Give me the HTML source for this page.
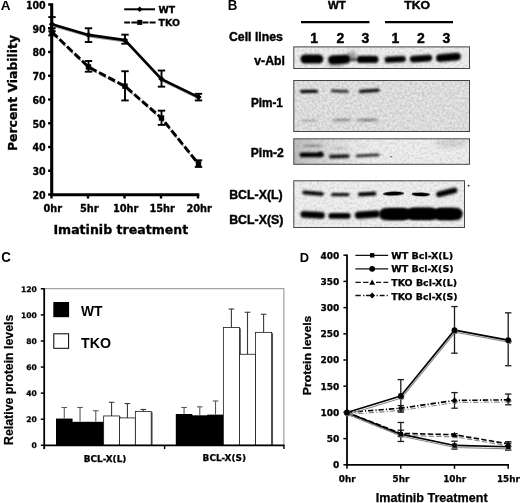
<!DOCTYPE html>
<html><head><meta charset="utf-8"><title>Figure</title>
<style>html,body{margin:0;padding:0;background:#fff;}svg{display:block;}</style></head><body>
<svg width="520" height="503" viewBox="0 0 520 503">
<defs>
<filter id="b0_5" x="-30%" y="-100%" width="160%" height="300%"><feGaussianBlur stdDeviation="0.5"/></filter>
<filter id="b0_8" x="-30%" y="-100%" width="160%" height="300%"><feGaussianBlur stdDeviation="0.8"/></filter>
<filter id="b1_2" x="-30%" y="-100%" width="160%" height="300%"><feGaussianBlur stdDeviation="1.2"/></filter>
<filter id="b1_5" x="-30%" y="-100%" width="160%" height="300%"><feGaussianBlur stdDeviation="1.5"/></filter>
<filter id="b2" x="-30%" y="-100%" width="160%" height="300%"><feGaussianBlur stdDeviation="2"/></filter>
<filter id="nz" x="0" y="0" width="100%" height="100%"><feTurbulence type="fractalNoise" baseFrequency="0.4" numOctaves="2" seed="7"/><feColorMatrix type="matrix" values="0 0 0 0 0  0 0 0 0 0  0 0 0 0 0  0.3 0 0 0 -0.1"/></filter>
<filter id="nz2" x="0" y="0" width="100%" height="100%"><feTurbulence type="fractalNoise" baseFrequency="0.4" numOctaves="2" seed="11"/><feColorMatrix type="matrix" values="0 0 0 0 0  0 0 0 0 0  0 0 0 0 0  0.25 0 0 0 -0.1"/></filter>
<linearGradient id="gl" x1="0" x2="1" y1="0" y2="0"><stop offset="0" stop-color="#000" stop-opacity="0.2"/><stop offset="0.5" stop-color="#000" stop-opacity="0.08"/><stop offset="1" stop-color="#000" stop-opacity="0"/></linearGradient>
</defs>
<rect width="520" height="503" fill="#fff"/>
<text x="0.70" y="9.80" font-size="13.3" font-family="'Liberation Sans', sans-serif" font-weight="bold" text-anchor="start" textLength="9.80" lengthAdjust="spacingAndGlyphs" >A</text>
<line x1="51.70" y1="3.30" x2="51.70" y2="196.00" stroke="#000" stroke-width="3.1" />
<line x1="50.20" y1="194.80" x2="199.30" y2="194.80" stroke="#000" stroke-width="3.1" />
<line x1="48.10" y1="194.50" x2="51.50" y2="194.50" stroke="#000" stroke-width="2.4" />
<text x="45.70" y="198.80" font-size="9.7" font-family="'DejaVu Sans', 'Liberation Sans', sans-serif" font-weight="bold" text-anchor="end" textLength="13.20" lengthAdjust="spacingAndGlyphs" stroke="#000" stroke-width="0.3">20</text>
<line x1="48.10" y1="170.75" x2="51.50" y2="170.75" stroke="#000" stroke-width="2.4" />
<text x="45.70" y="175.05" font-size="9.7" font-family="'DejaVu Sans', 'Liberation Sans', sans-serif" font-weight="bold" text-anchor="end" textLength="13.20" lengthAdjust="spacingAndGlyphs" stroke="#000" stroke-width="0.3">30</text>
<line x1="48.10" y1="147.00" x2="51.50" y2="147.00" stroke="#000" stroke-width="2.4" />
<text x="45.70" y="151.30" font-size="9.7" font-family="'DejaVu Sans', 'Liberation Sans', sans-serif" font-weight="bold" text-anchor="end" textLength="13.20" lengthAdjust="spacingAndGlyphs" stroke="#000" stroke-width="0.3">40</text>
<line x1="48.10" y1="123.25" x2="51.50" y2="123.25" stroke="#000" stroke-width="2.4" />
<text x="45.70" y="127.55" font-size="9.7" font-family="'DejaVu Sans', 'Liberation Sans', sans-serif" font-weight="bold" text-anchor="end" textLength="13.20" lengthAdjust="spacingAndGlyphs" stroke="#000" stroke-width="0.3">50</text>
<line x1="48.10" y1="99.50" x2="51.50" y2="99.50" stroke="#000" stroke-width="2.4" />
<text x="45.70" y="103.80" font-size="9.7" font-family="'DejaVu Sans', 'Liberation Sans', sans-serif" font-weight="bold" text-anchor="end" textLength="13.20" lengthAdjust="spacingAndGlyphs" stroke="#000" stroke-width="0.3">60</text>
<line x1="48.10" y1="75.75" x2="51.50" y2="75.75" stroke="#000" stroke-width="2.4" />
<text x="45.70" y="80.05" font-size="9.7" font-family="'DejaVu Sans', 'Liberation Sans', sans-serif" font-weight="bold" text-anchor="end" textLength="13.20" lengthAdjust="spacingAndGlyphs" stroke="#000" stroke-width="0.3">70</text>
<line x1="48.10" y1="52.00" x2="51.50" y2="52.00" stroke="#000" stroke-width="2.4" />
<text x="45.70" y="56.30" font-size="9.7" font-family="'DejaVu Sans', 'Liberation Sans', sans-serif" font-weight="bold" text-anchor="end" textLength="13.20" lengthAdjust="spacingAndGlyphs" stroke="#000" stroke-width="0.3">80</text>
<line x1="48.10" y1="28.25" x2="51.50" y2="28.25" stroke="#000" stroke-width="2.4" />
<text x="45.70" y="32.55" font-size="9.7" font-family="'DejaVu Sans', 'Liberation Sans', sans-serif" font-weight="bold" text-anchor="end" textLength="13.20" lengthAdjust="spacingAndGlyphs" stroke="#000" stroke-width="0.3">90</text>
<line x1="48.10" y1="4.50" x2="51.50" y2="4.50" stroke="#000" stroke-width="2.4" />
<text x="45.70" y="8.80" font-size="9.7" font-family="'DejaVu Sans', 'Liberation Sans', sans-serif" font-weight="bold" text-anchor="end" textLength="19.80" lengthAdjust="spacingAndGlyphs" stroke="#000" stroke-width="0.3">100</text>
<line x1="51.50" y1="194.50" x2="51.50" y2="198.50" stroke="#000" stroke-width="2.4" />
<text x="52.70" y="212.20" font-size="9.8" font-family="'DejaVu Sans', 'Liberation Sans', sans-serif" font-weight="bold" text-anchor="middle" stroke="#000" stroke-width="0.3">0hr</text>
<line x1="88.00" y1="194.50" x2="88.00" y2="198.50" stroke="#000" stroke-width="2.4" />
<text x="89.20" y="212.20" font-size="9.8" font-family="'DejaVu Sans', 'Liberation Sans', sans-serif" font-weight="bold" text-anchor="middle" stroke="#000" stroke-width="0.3">5hr</text>
<line x1="124.50" y1="194.50" x2="124.50" y2="198.50" stroke="#000" stroke-width="2.4" />
<text x="125.70" y="212.20" font-size="9.8" font-family="'DejaVu Sans', 'Liberation Sans', sans-serif" font-weight="bold" text-anchor="middle" stroke="#000" stroke-width="0.3">10hr</text>
<line x1="161.00" y1="194.50" x2="161.00" y2="198.50" stroke="#000" stroke-width="2.4" />
<text x="162.20" y="212.20" font-size="9.8" font-family="'DejaVu Sans', 'Liberation Sans', sans-serif" font-weight="bold" text-anchor="middle" stroke="#000" stroke-width="0.3">15hr</text>
<line x1="198.00" y1="194.50" x2="198.00" y2="198.50" stroke="#000" stroke-width="2.4" />
<text x="199.20" y="212.20" font-size="9.8" font-family="'DejaVu Sans', 'Liberation Sans', sans-serif" font-weight="bold" text-anchor="middle" stroke="#000" stroke-width="0.3">20hr</text>
<text transform="translate(16.80 93.00) rotate(-90)" font-size="12.6" font-family="'DejaVu Sans', 'Liberation Sans', sans-serif" font-weight="bold" text-anchor="middle" textLength="116.00" lengthAdjust="spacingAndGlyphs" stroke="#000" stroke-width="0.3">Percent Viability</text>
<text x="53.40" y="234.20" font-size="12.5" font-family="'DejaVu Sans', 'Liberation Sans', sans-serif" font-weight="bold" text-anchor="start" textLength="134.80" lengthAdjust="spacingAndGlyphs" stroke="#000" stroke-width="0.3">Imatinib treatment</text>
<polyline points="52.60,25.81 89.10,36.50 125.60,41.73 162.10,80.68 199.10,98.72" fill="none" stroke="#9a9a9a" stroke-width="1.8" stroke-linejoin="round" />
<polyline points="52.60,33.65 89.10,68.56 125.60,87.80 162.10,119.62 199.10,165.46" fill="none" stroke="#9a9a9a" stroke-width="1.8" stroke-linejoin="round" stroke-dasharray="7.6 2.8"/>
<polyline points="52.00,24.21 88.50,34.90 125.00,40.12 161.50,79.08 198.50,97.12" fill="none" stroke="#000" stroke-width="2.6" stroke-linejoin="round" />
<polyline points="52.00,32.05 88.50,66.96 125.00,86.20 161.50,118.02 198.50,163.86" fill="none" stroke="#000" stroke-width="2.9" stroke-linejoin="round" stroke-dasharray="7.6 2.8"/>
<line x1="52.00" y1="17.09" x2="52.00" y2="31.34" stroke="#000" stroke-width="1.9" />
<line x1="48.30" y1="17.09" x2="55.70" y2="17.09" stroke="#000" stroke-width="1.9" />
<line x1="48.30" y1="31.34" x2="55.70" y2="31.34" stroke="#000" stroke-width="1.9" />
<path d="M48.80 24.21 L52.00 21.01 L55.20 24.21 L52.00 27.41Z" fill="#000"/>
<line x1="88.50" y1="28.25" x2="88.50" y2="42.02" stroke="#000" stroke-width="1.9" />
<line x1="84.80" y1="28.25" x2="92.20" y2="28.25" stroke="#000" stroke-width="1.9" />
<line x1="84.80" y1="42.02" x2="92.20" y2="42.02" stroke="#000" stroke-width="1.9" />
<path d="M85.30 34.90 L88.50 31.70 L91.70 34.90 L88.50 38.10Z" fill="#000"/>
<line x1="125.00" y1="34.66" x2="125.00" y2="43.69" stroke="#000" stroke-width="1.9" />
<line x1="121.30" y1="34.66" x2="128.70" y2="34.66" stroke="#000" stroke-width="1.9" />
<line x1="121.30" y1="43.69" x2="128.70" y2="43.69" stroke="#000" stroke-width="1.9" />
<path d="M121.80 40.12 L125.00 36.92 L128.20 40.12 L125.00 43.33Z" fill="#000"/>
<line x1="161.50" y1="70.52" x2="161.50" y2="86.67" stroke="#000" stroke-width="1.9" />
<line x1="157.80" y1="70.52" x2="165.20" y2="70.52" stroke="#000" stroke-width="1.9" />
<line x1="157.80" y1="86.67" x2="165.20" y2="86.67" stroke="#000" stroke-width="1.9" />
<path d="M158.30 79.08 L161.50 75.88 L164.70 79.08 L161.50 82.28Z" fill="#000"/>
<line x1="198.50" y1="93.80" x2="198.50" y2="100.45" stroke="#000" stroke-width="1.9" />
<line x1="194.80" y1="93.80" x2="202.20" y2="93.80" stroke="#000" stroke-width="1.9" />
<line x1="194.80" y1="100.45" x2="202.20" y2="100.45" stroke="#000" stroke-width="1.9" />
<path d="M195.30 97.12 L198.50 93.92 L201.70 97.12 L198.50 100.33Z" fill="#000"/>
<line x1="52.00" y1="28.25" x2="52.00" y2="35.38" stroke="#000" stroke-width="1.9" />
<line x1="48.30" y1="28.25" x2="55.70" y2="28.25" stroke="#000" stroke-width="1.9" />
<line x1="48.30" y1="35.38" x2="55.70" y2="35.38" stroke="#000" stroke-width="1.9" />
<rect x="49.30" y="29.35" width="5.4" height="5.4" fill="#000"/>
<line x1="88.50" y1="61.02" x2="88.50" y2="71.71" stroke="#000" stroke-width="1.9" />
<line x1="84.80" y1="61.02" x2="92.20" y2="61.02" stroke="#000" stroke-width="1.9" />
<line x1="84.80" y1="71.71" x2="92.20" y2="71.71" stroke="#000" stroke-width="1.9" />
<rect x="85.80" y="64.26" width="5.4" height="5.4" fill="#000"/>
<line x1="125.00" y1="71.24" x2="125.00" y2="100.45" stroke="#000" stroke-width="1.9" />
<line x1="121.30" y1="71.24" x2="128.70" y2="71.24" stroke="#000" stroke-width="1.9" />
<line x1="121.30" y1="100.45" x2="128.70" y2="100.45" stroke="#000" stroke-width="1.9" />
<rect x="122.30" y="83.50" width="5.4" height="5.4" fill="#000"/>
<line x1="161.50" y1="110.66" x2="161.50" y2="124.91" stroke="#000" stroke-width="1.9" />
<line x1="157.80" y1="110.66" x2="165.20" y2="110.66" stroke="#000" stroke-width="1.9" />
<line x1="157.80" y1="124.91" x2="165.20" y2="124.91" stroke="#000" stroke-width="1.9" />
<rect x="158.80" y="115.32" width="5.4" height="5.4" fill="#000"/>
<line x1="198.50" y1="160.30" x2="198.50" y2="166.95" stroke="#000" stroke-width="1.9" />
<line x1="194.80" y1="160.30" x2="202.20" y2="160.30" stroke="#000" stroke-width="1.9" />
<line x1="194.80" y1="166.95" x2="202.20" y2="166.95" stroke="#000" stroke-width="1.9" />
<rect x="195.80" y="161.16" width="5.4" height="5.4" fill="#000"/>
<line x1="124.20" y1="9.30" x2="155.00" y2="9.30" stroke="#000" stroke-width="2" />
<path d="M136.9 9.3 L139.7 6.5 L142.5 9.3 L139.7 12.1Z" fill="#000"/>
<text x="158.60" y="12.70" font-size="9.3" font-family="'DejaVu Sans', 'Liberation Sans', sans-serif" font-weight="bold" text-anchor="start" textLength="16.60" lengthAdjust="spacingAndGlyphs" stroke="#000" stroke-width="0.3">WT</text>
<line x1="124.20" y1="22.40" x2="137.40" y2="22.40" stroke="#000" stroke-width="2" stroke-dasharray="5.9 1.3"/>
<line x1="142.40" y1="22.40" x2="155.80" y2="22.40" stroke="#000" stroke-width="2" stroke-dasharray="6 1.2"/>
<rect x="137.2" y="19.9" width="5" height="5" fill="#000"/>
<text x="158.60" y="26.30" font-size="9.3" font-family="'DejaVu Sans', 'Liberation Sans', sans-serif" font-weight="bold" text-anchor="start" textLength="21.40" lengthAdjust="spacingAndGlyphs" stroke="#000" stroke-width="0.3">TKO</text>
<text x="227.80" y="10.20" font-size="14" font-family="'Liberation Sans', sans-serif" font-weight="bold" text-anchor="start" textLength="9.60" lengthAdjust="spacingAndGlyphs" >B</text>
<text x="328.00" y="9.00" font-size="11" font-family="'Liberation Sans', sans-serif" font-weight="bold" text-anchor="start" textLength="17.80" lengthAdjust="spacingAndGlyphs" stroke="#000" stroke-width="0.4">WT</text>
<text x="404.30" y="9.00" font-size="11" font-family="'Liberation Sans', sans-serif" font-weight="bold" text-anchor="start" textLength="25.80" lengthAdjust="spacingAndGlyphs" stroke="#000" stroke-width="0.4">TKO</text>
<line x1="301.00" y1="22.10" x2="369.50" y2="22.10" stroke="#000" stroke-width="2.3" />
<line x1="385.00" y1="22.10" x2="453.00" y2="22.10" stroke="#000" stroke-width="2.3" />
<text x="229.00" y="41.20" font-size="12.4" font-family="'Liberation Sans', sans-serif" font-weight="bold" text-anchor="start" textLength="53.80" lengthAdjust="spacingAndGlyphs" stroke="#000" stroke-width="0.4">Cell lines</text>
<text x="314.10" y="42.70" font-size="14" font-family="'Liberation Sans', sans-serif" font-weight="bold" text-anchor="middle" stroke="#000" stroke-width="0.4">1</text>
<text x="340.40" y="42.70" font-size="14" font-family="'Liberation Sans', sans-serif" font-weight="bold" text-anchor="middle" stroke="#000" stroke-width="0.4">2</text>
<text x="365.40" y="42.70" font-size="14" font-family="'Liberation Sans', sans-serif" font-weight="bold" text-anchor="middle" stroke="#000" stroke-width="0.4">3</text>
<text x="395.40" y="42.70" font-size="14" font-family="'Liberation Sans', sans-serif" font-weight="bold" text-anchor="middle" stroke="#000" stroke-width="0.4">1</text>
<text x="420.90" y="42.70" font-size="14" font-family="'Liberation Sans', sans-serif" font-weight="bold" text-anchor="middle" stroke="#000" stroke-width="0.4">2</text>
<text x="446.40" y="42.70" font-size="14" font-family="'Liberation Sans', sans-serif" font-weight="bold" text-anchor="middle" stroke="#000" stroke-width="0.4">3</text>
<text x="254.30" y="64.70" font-size="12.3" font-family="'Liberation Sans', sans-serif" font-weight="bold" text-anchor="start" textLength="30.60" lengthAdjust="spacingAndGlyphs" stroke="#000" stroke-width="0.4">v-Abl</text>
<text x="250.90" y="107.10" font-size="12.3" font-family="'Liberation Sans', sans-serif" font-weight="bold" text-anchor="start" textLength="32.00" lengthAdjust="spacingAndGlyphs" stroke="#000" stroke-width="0.4">Pim-1</text>
<text x="250.80" y="157.00" font-size="12.3" font-family="'Liberation Sans', sans-serif" font-weight="bold" text-anchor="start" textLength="32.90" lengthAdjust="spacingAndGlyphs" stroke="#000" stroke-width="0.4">Pim-2</text>
<text x="229.20" y="199.10" font-size="12.4" font-family="'Liberation Sans', sans-serif" font-weight="bold" text-anchor="start" textLength="53.50" lengthAdjust="spacingAndGlyphs" stroke="#000" stroke-width="0.4">BCL-X(L)</text>
<text x="229.20" y="223.50" font-size="12.4" font-family="'Liberation Sans', sans-serif" font-weight="bold" text-anchor="start" textLength="54.20" lengthAdjust="spacingAndGlyphs" stroke="#000" stroke-width="0.4">BCL-X(S)</text>
<clipPath id="c1"><rect x="293.8" y="46.9" width="175.70" height="21.60"/></clipPath>
<rect x="293.8" y="46.9" width="175.70" height="21.60" fill="#eeeeee"/>
<rect x="293.8" y="46.9" width="175.70" height="21.60" fill="#000" filter="url(#nz2)"/>
<g clip-path="url(#c1)">
<rect x="300.40" y="54.40" width="23.00" height="9.20" rx="4.60" ry="4.60" fill="#000" opacity="1" filter="url(#b0_8)" transform="rotate(0 311.90 59.00)"/>
<rect x="328.00" y="55.00" width="22.50" height="9.00" rx="4.50" ry="4.50" fill="#000" opacity="1" filter="url(#b0_8)" transform="rotate(-3 339.25 59.50)"/>
<rect x="356.80" y="55.70" width="21.70" height="7.40" rx="3.70" ry="3.70" fill="#000" opacity="1" filter="url(#b0_8)" transform="rotate(0 367.65 59.40)"/>
<ellipse cx="336.00" cy="64.00" rx="8.00" ry="2.50" fill="#000" opacity="0.35" filter="url(#b2)" transform="rotate(0 336.00 64.00)"/>
<ellipse cx="352.00" cy="55.50" rx="4.50" ry="3.50" fill="#000" opacity="0.4" filter="url(#b2)" transform="rotate(0 352.00 55.50)"/>
<ellipse cx="353.50" cy="59.50" rx="4.00" ry="1.75" fill="#000" opacity="0.6" filter="url(#b1_2)" transform="rotate(0 353.50 59.50)"/>
<rect x="384.60" y="56.30" width="21.20" height="6.20" rx="3.10" ry="3.10" fill="#000" opacity="1" filter="url(#b0_8)" transform="rotate(-3 395.20 59.40)"/>
<rect x="409.80" y="55.30" width="22.40" height="6.60" rx="3.30" ry="3.30" fill="#000" opacity="1" filter="url(#b0_8)" transform="rotate(-4 421.00 58.60)"/>
<rect x="436.00" y="53.60" width="24.80" height="7.60" rx="3.80" ry="3.80" fill="#000" opacity="1" filter="url(#b0_8)" transform="rotate(-5 448.40 57.40)"/>
</g>
<rect x="293.8" y="46.9" width="175.70" height="21.60" fill="none" stroke="#444" stroke-width="1"/>
<clipPath id="c2"><rect x="293.8" y="80.5" width="175.70" height="51.00"/></clipPath>
<rect x="293.8" y="80.5" width="175.70" height="51.00" fill="#e6e6e6"/>
<rect x="293.8" y="80.5" width="175.70" height="51.00" fill="#000" filter="url(#nz)"/>
<g clip-path="url(#c2)">
<rect x="300.00" y="89.85" width="18.00" height="3.10" rx="1.55" ry="1.55" fill="#000" opacity="1" filter="url(#b0_8)" transform="rotate(-1 309.00 91.40)"/>
<rect x="330.80" y="89.70" width="18.00" height="2.80" rx="1.40" ry="1.40" fill="#000" opacity="0.85" filter="url(#b0_8)" transform="rotate(2 339.80 91.10)"/>
<rect x="358.60" y="89.15" width="21.20" height="3.30" rx="1.65" ry="1.65" fill="#000" opacity="1" filter="url(#b0_8)" transform="rotate(-4 369.20 90.80)"/>
<ellipse cx="309.00" cy="120.50" rx="9.00" ry="1.10" fill="#000" opacity="0.25" filter="url(#b1_2)" transform="rotate(0 309.00 120.50)"/>
<ellipse cx="342.00" cy="120.00" rx="10.00" ry="1.30" fill="#000" opacity="0.4" filter="url(#b1_2)" transform="rotate(0 342.00 120.00)"/>
<ellipse cx="367.50" cy="120.00" rx="11.50" ry="1.40" fill="#000" opacity="0.42" filter="url(#b1_2)" transform="rotate(0 367.50 120.00)"/>
</g>
<rect x="293.8" y="80.5" width="175.70" height="51.00" fill="none" stroke="#444" stroke-width="1"/>
<clipPath id="c3"><rect x="293.8" y="138.8" width="175.70" height="25.50"/></clipPath>
<rect x="293.8" y="138.8" width="175.70" height="25.50" fill="#eeeeee"/>
<rect x="293.8" y="138.8" width="175.70" height="25.50" fill="#000" filter="url(#nz2)"/>
<g clip-path="url(#c3)">
<rect x="293.8" y="138.8" width="70" height="25.5" fill="url(#gl)"/>
<rect x="299.50" y="152.50" width="24.30" height="4.80" rx="2.40" ry="2.40" fill="#000" opacity="1" filter="url(#b0_8)" transform="rotate(0 311.65 154.90)"/>
<ellipse cx="320.50" cy="153.30" rx="2.50" ry="1.50" fill="#000" opacity="0.9" filter="url(#b0_8)" transform="rotate(0 320.50 153.30)"/>
<rect x="329.00" y="154.60" width="20.60" height="3.60" rx="1.80" ry="1.80" fill="#000" opacity="0.92" filter="url(#b0_8)" transform="rotate(-2 339.30 156.40)"/>
<rect x="355.80" y="153.95" width="23.70" height="2.90" rx="1.45" ry="1.45" fill="#000" opacity="0.85" filter="url(#b0_8)" transform="rotate(-3 367.65 155.40)"/>
<ellipse cx="313.00" cy="145.90" rx="10.50" ry="1.20" fill="#000" opacity="0.32" filter="url(#b1_2)" transform="rotate(0 313.00 145.90)"/>
<ellipse cx="340.00" cy="148.30" rx="8.50" ry="1.10" fill="#000" opacity="0.16" filter="url(#b1_2)" transform="rotate(0 340.00 148.30)"/>
<ellipse cx="363.00" cy="146.00" rx="4.00" ry="1.00" fill="#000" opacity="0.1" filter="url(#b1_2)" transform="rotate(0 363.00 146.00)"/>
<ellipse cx="451.00" cy="143.50" rx="16.50" ry="3.50" fill="#000" opacity="0.13" filter="url(#b2)" transform="rotate(0 451.00 143.50)"/>
<circle cx="391" cy="156.8" r="0.7" fill="#222"/>
<circle cx="381" cy="154.5" r="0.5" fill="#555"/>
</g>
<rect x="293.8" y="138.8" width="175.70" height="25.50" fill="none" stroke="#444" stroke-width="1"/>
<clipPath id="c4"><rect x="293.8" y="180.8" width="170.70" height="46.70"/></clipPath>
<rect x="293.8" y="180.8" width="170.70" height="46.70" fill="#efefef"/>
<rect x="293.8" y="180.8" width="170.70" height="46.70" fill="#000" filter="url(#nz2)"/>
<g clip-path="url(#c4)">
<rect x="302.30" y="191.20" width="21.50" height="4.00" rx="2.00" ry="2.00" fill="#000" opacity="1" filter="url(#b0_8)" transform="rotate(5 313.05 193.20)"/>
<rect x="331.00" y="193.10" width="18.60" height="3.20" rx="1.60" ry="1.60" fill="#000" opacity="0.95" filter="url(#b0_8)" transform="rotate(0 340.30 194.70)"/>
<rect x="357.80" y="192.00" width="18.70" height="4.00" rx="2.00" ry="2.00" fill="#000" opacity="1" filter="url(#b0_8)" transform="rotate(-3 367.15 194.00)"/>
<ellipse cx="393.50" cy="193.60" rx="10.75" ry="2.00" fill="#000" opacity="1" filter="url(#b0_5)" transform="rotate(-2 393.50 193.60)"/>
<ellipse cx="420.80" cy="194.30" rx="9.25" ry="1.90" fill="#000" opacity="1" filter="url(#b0_5)" transform="rotate(2 420.80 194.30)"/>
<rect x="435.90" y="189.40" width="21.70" height="5.80" rx="2.90" ry="2.90" fill="#000" opacity="1" filter="url(#b0_8)" transform="rotate(-14 446.75 192.30)"/>
<rect x="300.50" y="211.60" width="24.30" height="6.60" rx="3.30" ry="3.30" fill="#000" opacity="1" filter="url(#b0_8)" transform="rotate(3 312.65 214.90)"/>
<rect x="328.40" y="213.10" width="22.20" height="5.60" rx="2.80" ry="2.80" fill="#000" opacity="1" filter="url(#b0_8)" transform="rotate(0 339.50 215.90)"/>
<rect x="354.80" y="210.90" width="25.20" height="7.40" rx="3.70" ry="3.70" fill="#000" opacity="1" filter="url(#b0_8)" transform="rotate(-4 367.40 214.60)"/>
<rect x="379.00" y="208.10" width="30.50" height="12.20" rx="6.10" ry="6.10" fill="#000" opacity="1" filter="url(#b0_8)" transform="rotate(0 394.25 214.20)"/>
<rect x="407.50" y="207.50" width="29.00" height="12.60" rx="6.30" ry="6.30" fill="#000" opacity="1" filter="url(#b0_8)" transform="rotate(0 422.00 213.80)"/>
<rect x="434.50" y="207.80" width="28.10" height="12.40" rx="6.20" ry="6.20" fill="#000" opacity="1" filter="url(#b0_8)" transform="rotate(0 448.55 214.00)"/>
<rect x="388" y="208.8" width="66" height="10.4" fill="#000" filter="url(#b0_8)"/>
</g>
<rect x="293.8" y="180.8" width="170.70" height="46.70" fill="none" stroke="#444" stroke-width="1"/>
<circle cx="468.6" cy="185.6" r="0.9" fill="#111"/>
<text x="1.20" y="262.20" font-size="14" font-family="'Liberation Sans', sans-serif" font-weight="bold" text-anchor="start" textLength="9.60" lengthAdjust="spacingAndGlyphs" >C</text>
<line x1="44.20" y1="288.70" x2="284.30" y2="288.70" stroke="#808080" stroke-width="0.9" />
<line x1="283.90" y1="288.70" x2="283.90" y2="445.30" stroke="#808080" stroke-width="0.9" />
<line x1="40.80" y1="445.30" x2="44.20" y2="445.30" stroke="#000" stroke-width="1.5" />
<text x="36.90" y="448.20" font-size="7.6" font-family="'DejaVu Sans', 'Liberation Sans', sans-serif" font-weight="bold" text-anchor="end" stroke="#000" stroke-width="0.25">0</text>
<line x1="40.80" y1="419.22" x2="44.20" y2="419.22" stroke="#000" stroke-width="1.5" />
<text x="36.90" y="422.12" font-size="7.6" font-family="'DejaVu Sans', 'Liberation Sans', sans-serif" font-weight="bold" text-anchor="end" stroke="#000" stroke-width="0.25">20</text>
<line x1="40.80" y1="393.13" x2="44.20" y2="393.13" stroke="#000" stroke-width="1.5" />
<text x="36.90" y="396.03" font-size="7.6" font-family="'DejaVu Sans', 'Liberation Sans', sans-serif" font-weight="bold" text-anchor="end" stroke="#000" stroke-width="0.25">40</text>
<line x1="40.80" y1="367.05" x2="44.20" y2="367.05" stroke="#000" stroke-width="1.5" />
<text x="36.90" y="369.95" font-size="7.6" font-family="'DejaVu Sans', 'Liberation Sans', sans-serif" font-weight="bold" text-anchor="end" stroke="#000" stroke-width="0.25">60</text>
<line x1="40.80" y1="340.97" x2="44.20" y2="340.97" stroke="#000" stroke-width="1.5" />
<text x="36.90" y="343.87" font-size="7.6" font-family="'DejaVu Sans', 'Liberation Sans', sans-serif" font-weight="bold" text-anchor="end" stroke="#000" stroke-width="0.25">80</text>
<line x1="40.80" y1="314.88" x2="44.20" y2="314.88" stroke="#000" stroke-width="1.5" />
<text x="36.90" y="317.78" font-size="7.6" font-family="'DejaVu Sans', 'Liberation Sans', sans-serif" font-weight="bold" text-anchor="end" stroke="#000" stroke-width="0.25">100</text>
<line x1="40.80" y1="288.80" x2="44.20" y2="288.80" stroke="#000" stroke-width="1.5" />
<text x="36.90" y="291.70" font-size="7.6" font-family="'DejaVu Sans', 'Liberation Sans', sans-serif" font-weight="bold" text-anchor="end" stroke="#000" stroke-width="0.25">120</text>
<text transform="translate(13.00 379.80) rotate(-90)" font-size="12.6" font-family="'Liberation Sans', sans-serif" font-weight="bold" text-anchor="middle" textLength="130.40" lengthAdjust="spacingAndGlyphs" stroke="#000" stroke-width="0.2">Relative protein levels</text>
<text x="81.00" y="316.30" font-size="14" font-family="'Liberation Sans', sans-serif" font-weight="bold" text-anchor="start" textLength="21.50" lengthAdjust="spacingAndGlyphs" >WT</text>
<text x="81.00" y="348.00" font-size="14" font-family="'Liberation Sans', sans-serif" font-weight="bold" text-anchor="start" textLength="30.00" lengthAdjust="spacingAndGlyphs" >TKO</text>
<rect x="53.3" y="302" width="15.8" height="15.2" fill="#000"/>
<rect x="53.8" y="333.8" width="14.8" height="14.5" fill="#fff" stroke="#000" stroke-width="1"/>
<rect x="56.00" y="418.56" width="16.55" height="26.74" fill="#000"/>
<line x1="64.28" y1="407.48" x2="64.28" y2="418.56" stroke="#5a5a5a" stroke-width="1.1" />
<line x1="61.48" y1="407.48" x2="67.08" y2="407.48" stroke="#5a5a5a" stroke-width="1.1" />
<rect x="71.75" y="421.82" width="16.55" height="23.48" fill="#000"/>
<line x1="80.03" y1="407.48" x2="80.03" y2="421.82" stroke="#5a5a5a" stroke-width="1.1" />
<line x1="77.23" y1="407.48" x2="82.83" y2="407.48" stroke="#5a5a5a" stroke-width="1.1" />
<rect x="87.50" y="421.82" width="16.55" height="23.48" fill="#000"/>
<line x1="95.78" y1="410.74" x2="95.78" y2="421.82" stroke="#5a5a5a" stroke-width="1.1" />
<line x1="92.98" y1="410.74" x2="98.58" y2="410.74" stroke="#5a5a5a" stroke-width="1.1" />
<line x1="111.58" y1="402.26" x2="111.58" y2="415.96" stroke="#3a3a3a" stroke-width="1.1" />
<line x1="108.78" y1="402.26" x2="114.38" y2="402.26" stroke="#3a3a3a" stroke-width="1.1" />
<rect x="119.30" y="416.76" width="1.6" height="28.54" fill="#555"/>
<rect x="103.65" y="415.96" width="15.85" height="29.34" fill="#fff" stroke="#1a1a1a" stroke-width="0.8"/>
<line x1="127.42" y1="403.57" x2="127.42" y2="417.91" stroke="#3a3a3a" stroke-width="1.1" />
<line x1="124.62" y1="403.57" x2="130.22" y2="403.57" stroke="#3a3a3a" stroke-width="1.1" />
<rect x="135.15" y="418.71" width="1.6" height="26.59" fill="#555"/>
<rect x="119.50" y="417.91" width="15.85" height="27.39" fill="#fff" stroke="#1a1a1a" stroke-width="0.8"/>
<line x1="143.28" y1="409.44" x2="143.28" y2="411.39" stroke="#3a3a3a" stroke-width="1.1" />
<line x1="140.47" y1="409.44" x2="146.08" y2="409.44" stroke="#3a3a3a" stroke-width="1.1" />
<rect x="151.00" y="412.19" width="1.6" height="33.11" fill="#555"/>
<rect x="135.35" y="411.39" width="15.85" height="33.91" fill="#fff" stroke="#1a1a1a" stroke-width="0.8"/>
<rect x="175.80" y="414.00" width="16.52" height="31.30" fill="#000"/>
<line x1="184.06" y1="407.48" x2="184.06" y2="414.00" stroke="#5a5a5a" stroke-width="1.1" />
<line x1="181.26" y1="407.48" x2="186.86" y2="407.48" stroke="#5a5a5a" stroke-width="1.1" />
<rect x="191.52" y="415.30" width="16.52" height="30.00" fill="#000"/>
<line x1="199.78" y1="406.83" x2="199.78" y2="415.30" stroke="#5a5a5a" stroke-width="1.1" />
<line x1="196.98" y1="406.83" x2="202.58" y2="406.83" stroke="#5a5a5a" stroke-width="1.1" />
<rect x="207.24" y="414.65" width="16.52" height="30.65" fill="#000"/>
<line x1="215.50" y1="400.96" x2="215.50" y2="414.65" stroke="#5a5a5a" stroke-width="1.1" />
<line x1="212.70" y1="400.96" x2="218.30" y2="400.96" stroke="#5a5a5a" stroke-width="1.1" />
<line x1="231.41" y1="309.01" x2="231.41" y2="327.53" stroke="#3a3a3a" stroke-width="1.1" />
<line x1="228.61" y1="309.01" x2="234.21" y2="309.01" stroke="#3a3a3a" stroke-width="1.1" />
<rect x="239.26" y="328.33" width="1.6" height="116.97" fill="#555"/>
<rect x="223.36" y="327.53" width="16.10" height="117.77" fill="#fff" stroke="#1a1a1a" stroke-width="0.8"/>
<line x1="247.51" y1="312.27" x2="247.51" y2="354.27" stroke="#3a3a3a" stroke-width="1.1" />
<line x1="244.71" y1="312.27" x2="250.31" y2="312.27" stroke="#3a3a3a" stroke-width="1.1" />
<rect x="255.36" y="355.07" width="1.6" height="90.23" fill="#555"/>
<rect x="239.46" y="354.27" width="16.10" height="91.03" fill="#fff" stroke="#1a1a1a" stroke-width="0.8"/>
<line x1="263.61" y1="314.23" x2="263.61" y2="332.36" stroke="#3a3a3a" stroke-width="1.1" />
<line x1="260.81" y1="314.23" x2="266.41" y2="314.23" stroke="#3a3a3a" stroke-width="1.1" />
<rect x="271.46" y="333.16" width="1.6" height="112.14" fill="#555"/>
<rect x="255.56" y="332.36" width="16.10" height="112.94" fill="#fff" stroke="#1a1a1a" stroke-width="0.8"/>
<line x1="44.20" y1="288.30" x2="44.20" y2="449.10" stroke="#000" stroke-width="1.8" />
<line x1="43.60" y1="445.30" x2="284.50" y2="445.30" stroke="#000" stroke-width="1.8" />
<line x1="164.60" y1="445.30" x2="164.60" y2="449.10" stroke="#000" stroke-width="1.4" />
<line x1="283.90" y1="445.30" x2="283.90" y2="449.10" stroke="#000" stroke-width="1.4" />
<text x="83.80" y="462.20" font-size="8.4" font-family="'DejaVu Sans', 'Liberation Sans', sans-serif" font-weight="bold" text-anchor="start" textLength="42.60" lengthAdjust="spacingAndGlyphs" stroke="#000" stroke-width="0.25">BCL-X(L)</text>
<text x="202.60" y="461.00" font-size="8.4" font-family="'DejaVu Sans', 'Liberation Sans', sans-serif" font-weight="bold" text-anchor="start" textLength="43.40" lengthAdjust="spacingAndGlyphs" stroke="#000" stroke-width="0.25">BCL-X(S)</text>
<text x="299.70" y="261.50" font-size="13.3" font-family="'Liberation Sans', sans-serif" font-weight="bold" text-anchor="start" textLength="9.30" lengthAdjust="spacingAndGlyphs" >D</text>
<line x1="347.00" y1="254.50" x2="347.00" y2="465.70" stroke="#000" stroke-width="1.8" />
<line x1="346.50" y1="464.80" x2="509.00" y2="464.80" stroke="#000" stroke-width="1.8" />
<line x1="343.40" y1="464.80" x2="347.00" y2="464.80" stroke="#000" stroke-width="1.5" />
<text x="339.30" y="468.10" font-size="9.2" font-family="'DejaVu Sans', 'Liberation Sans', sans-serif" font-weight="bold" text-anchor="end" textLength="6.30" lengthAdjust="spacingAndGlyphs" stroke="#000" stroke-width="0.25">0</text>
<line x1="343.40" y1="438.60" x2="347.00" y2="438.60" stroke="#000" stroke-width="1.5" />
<text x="339.30" y="441.90" font-size="9.2" font-family="'DejaVu Sans', 'Liberation Sans', sans-serif" font-weight="bold" text-anchor="end" textLength="12.60" lengthAdjust="spacingAndGlyphs" stroke="#000" stroke-width="0.25">50</text>
<line x1="343.40" y1="412.40" x2="347.00" y2="412.40" stroke="#000" stroke-width="1.5" />
<text x="339.30" y="415.70" font-size="9.2" font-family="'DejaVu Sans', 'Liberation Sans', sans-serif" font-weight="bold" text-anchor="end" textLength="18.90" lengthAdjust="spacingAndGlyphs" stroke="#000" stroke-width="0.25">100</text>
<line x1="343.40" y1="386.20" x2="347.00" y2="386.20" stroke="#000" stroke-width="1.5" />
<text x="339.30" y="389.50" font-size="9.2" font-family="'DejaVu Sans', 'Liberation Sans', sans-serif" font-weight="bold" text-anchor="end" textLength="18.90" lengthAdjust="spacingAndGlyphs" stroke="#000" stroke-width="0.25">150</text>
<line x1="343.40" y1="360.00" x2="347.00" y2="360.00" stroke="#000" stroke-width="1.5" />
<text x="339.30" y="363.30" font-size="9.2" font-family="'DejaVu Sans', 'Liberation Sans', sans-serif" font-weight="bold" text-anchor="end" textLength="18.90" lengthAdjust="spacingAndGlyphs" stroke="#000" stroke-width="0.25">200</text>
<line x1="343.40" y1="333.80" x2="347.00" y2="333.80" stroke="#000" stroke-width="1.5" />
<text x="339.30" y="337.10" font-size="9.2" font-family="'DejaVu Sans', 'Liberation Sans', sans-serif" font-weight="bold" text-anchor="end" textLength="18.90" lengthAdjust="spacingAndGlyphs" stroke="#000" stroke-width="0.25">250</text>
<line x1="343.40" y1="307.60" x2="347.00" y2="307.60" stroke="#000" stroke-width="1.5" />
<text x="339.30" y="310.90" font-size="9.2" font-family="'DejaVu Sans', 'Liberation Sans', sans-serif" font-weight="bold" text-anchor="end" textLength="18.90" lengthAdjust="spacingAndGlyphs" stroke="#000" stroke-width="0.25">300</text>
<line x1="343.40" y1="281.40" x2="347.00" y2="281.40" stroke="#000" stroke-width="1.5" />
<text x="339.30" y="284.70" font-size="9.2" font-family="'DejaVu Sans', 'Liberation Sans', sans-serif" font-weight="bold" text-anchor="end" textLength="18.90" lengthAdjust="spacingAndGlyphs" stroke="#000" stroke-width="0.25">350</text>
<line x1="343.40" y1="255.20" x2="347.00" y2="255.20" stroke="#000" stroke-width="1.5" />
<text x="339.30" y="258.50" font-size="9.2" font-family="'DejaVu Sans', 'Liberation Sans', sans-serif" font-weight="bold" text-anchor="end" textLength="18.90" lengthAdjust="spacingAndGlyphs" stroke="#000" stroke-width="0.25">400</text>
<line x1="347.00" y1="464.80" x2="347.00" y2="468.80" stroke="#000" stroke-width="1.5" />
<text x="347.20" y="481.90" font-size="8.8" font-family="'DejaVu Sans', 'Liberation Sans', sans-serif" font-weight="bold" text-anchor="middle" textLength="16.80" lengthAdjust="spacingAndGlyphs" stroke="#000" stroke-width="0.25">0hr</text>
<line x1="400.80" y1="464.80" x2="400.80" y2="468.80" stroke="#000" stroke-width="1.5" />
<text x="401.00" y="481.90" font-size="8.8" font-family="'DejaVu Sans', 'Liberation Sans', sans-serif" font-weight="bold" text-anchor="middle" textLength="16.80" lengthAdjust="spacingAndGlyphs" stroke="#000" stroke-width="0.25">5hr</text>
<line x1="454.50" y1="464.80" x2="454.50" y2="468.80" stroke="#000" stroke-width="1.5" />
<text x="454.70" y="481.90" font-size="8.8" font-family="'DejaVu Sans', 'Liberation Sans', sans-serif" font-weight="bold" text-anchor="middle" textLength="23.00" lengthAdjust="spacingAndGlyphs" stroke="#000" stroke-width="0.25">10hr</text>
<line x1="508.20" y1="464.80" x2="508.20" y2="468.80" stroke="#000" stroke-width="1.5" />
<text x="508.40" y="481.90" font-size="8.8" font-family="'DejaVu Sans', 'Liberation Sans', sans-serif" font-weight="bold" text-anchor="middle" textLength="23.00" lengthAdjust="spacingAndGlyphs" stroke="#000" stroke-width="0.25">15hr</text>
<text transform="translate(310.80 355.40) rotate(-90)" font-size="11.7" font-family="'Liberation Sans', sans-serif" font-weight="bold" text-anchor="middle" textLength="79.60" lengthAdjust="spacingAndGlyphs" stroke="#000" stroke-width="0.3">Protein levels</text>
<text x="375.80" y="502.20" font-size="12.5" font-family="'Liberation Sans', sans-serif" font-weight="bold" text-anchor="start" textLength="111.80" lengthAdjust="spacingAndGlyphs" stroke="#000" stroke-width="0.25">Imatinib Treatment</text>
<polyline points="347.80,414.50 401.60,435.46 455.30,436.82 509.00,445.94" fill="none" stroke="#8a8a8a" stroke-width="1.2" stroke-linejoin="round" stroke-dasharray="5.4 2.3"/>
<polyline points="347.00,412.40 400.80,433.36 454.50,434.72 508.20,443.84" fill="none" stroke="#000" stroke-width="1.6" stroke-linejoin="round" stroke-dasharray="5.4 2.3"/>
<path d="M344.80 415.90 L347.70 410.60 L350.60 415.90Z" fill="#777"/>
<path d="M344.10 414.70 L347.00 409.40 L349.90 414.70Z" fill="#000"/>
<line x1="400.80" y1="430.22" x2="400.80" y2="436.50" stroke="#1c1c1c" stroke-width="1.3" />
<line x1="397.60" y1="430.22" x2="404.00" y2="430.22" stroke="#1c1c1c" stroke-width="1.3" />
<line x1="397.60" y1="436.50" x2="404.00" y2="436.50" stroke="#1c1c1c" stroke-width="1.3" />
<path d="M398.60 436.86 L401.50 431.56 L404.40 436.86Z" fill="#777"/>
<path d="M397.90 435.66 L400.80 430.36 L403.70 435.66Z" fill="#000"/>
<line x1="454.50" y1="433.62" x2="454.50" y2="435.72" stroke="#1c1c1c" stroke-width="1.3" />
<line x1="451.30" y1="433.62" x2="457.70" y2="433.62" stroke="#1c1c1c" stroke-width="1.3" />
<line x1="451.30" y1="435.72" x2="457.70" y2="435.72" stroke="#1c1c1c" stroke-width="1.3" />
<path d="M452.30 438.22 L455.20 432.92 L458.10 438.22Z" fill="#777"/>
<path d="M451.60 437.02 L454.50 431.72 L457.40 437.02Z" fill="#000"/>
<line x1="508.20" y1="441.74" x2="508.20" y2="445.94" stroke="#1c1c1c" stroke-width="1.3" />
<line x1="505.00" y1="441.74" x2="511.40" y2="441.74" stroke="#1c1c1c" stroke-width="1.3" />
<line x1="505.00" y1="445.94" x2="511.40" y2="445.94" stroke="#1c1c1c" stroke-width="1.3" />
<path d="M506.00 447.34 L508.90 442.04 L511.80 447.34Z" fill="#777"/>
<path d="M505.30 446.14 L508.20 440.84 L511.10 446.14Z" fill="#000"/>
<polyline points="347.80,414.50 401.60,436.25 455.30,447.51 509.00,448.82" fill="none" stroke="#8a8a8a" stroke-width="1.2" stroke-linejoin="round" />
<polyline points="347.00,412.40 400.80,434.15 454.50,445.41 508.20,446.72" fill="none" stroke="#000" stroke-width="1.6" stroke-linejoin="round" />
<rect x="345.50" y="411.40" width="4.4" height="4.4" fill="#777"/>
<rect x="344.80" y="410.20" width="4.4" height="4.4" fill="#000"/>
<line x1="400.80" y1="422.46" x2="400.80" y2="441.48" stroke="#1c1c1c" stroke-width="1.3" />
<line x1="397.60" y1="422.46" x2="404.00" y2="422.46" stroke="#1c1c1c" stroke-width="1.3" />
<line x1="397.60" y1="441.48" x2="404.00" y2="441.48" stroke="#1c1c1c" stroke-width="1.3" />
<rect x="399.30" y="433.15" width="4.4" height="4.4" fill="#777"/>
<rect x="398.60" y="431.95" width="4.4" height="4.4" fill="#000"/>
<line x1="454.50" y1="441.22" x2="454.50" y2="449.08" stroke="#1c1c1c" stroke-width="1.3" />
<line x1="451.30" y1="441.22" x2="457.70" y2="441.22" stroke="#1c1c1c" stroke-width="1.3" />
<line x1="451.30" y1="449.08" x2="457.70" y2="449.08" stroke="#1c1c1c" stroke-width="1.3" />
<rect x="453.00" y="444.41" width="4.4" height="4.4" fill="#777"/>
<rect x="452.30" y="443.21" width="4.4" height="4.4" fill="#000"/>
<line x1="508.20" y1="443.32" x2="508.20" y2="450.13" stroke="#1c1c1c" stroke-width="1.3" />
<line x1="505.00" y1="443.32" x2="511.40" y2="443.32" stroke="#1c1c1c" stroke-width="1.3" />
<line x1="505.00" y1="450.13" x2="511.40" y2="450.13" stroke="#1c1c1c" stroke-width="1.3" />
<rect x="506.70" y="445.72" width="4.4" height="4.4" fill="#777"/>
<rect x="506.00" y="444.52" width="4.4" height="4.4" fill="#000"/>
<polyline points="347.80,414.50 401.60,410.31 455.30,402.55 509.00,401.92" fill="none" stroke="#8a8a8a" stroke-width="1.2" stroke-linejoin="round" stroke-dasharray="5.4 2.1 1.2 1.8"/>
<polyline points="347.00,412.40 400.80,408.21 454.50,400.45 508.20,399.82" fill="none" stroke="#000" stroke-width="1.6" stroke-linejoin="round" stroke-dasharray="5.4 2.1 1.2 1.8"/>
<path d="M344.80 413.60 L347.70 410.70 L350.60 413.60 L347.70 416.50Z" fill="#777"/>
<path d="M344.10 412.40 L347.00 409.50 L349.90 412.40 L347.00 415.30Z" fill="#000"/>
<line x1="400.80" y1="405.59" x2="400.80" y2="410.83" stroke="#1c1c1c" stroke-width="1.3" />
<line x1="397.60" y1="405.59" x2="404.00" y2="405.59" stroke="#1c1c1c" stroke-width="1.3" />
<line x1="397.60" y1="410.83" x2="404.00" y2="410.83" stroke="#1c1c1c" stroke-width="1.3" />
<path d="M398.60 409.41 L401.50 406.51 L404.40 409.41 L401.50 412.31Z" fill="#777"/>
<path d="M397.90 408.21 L400.80 405.31 L403.70 408.21 L400.80 411.11Z" fill="#000"/>
<line x1="454.50" y1="392.59" x2="454.50" y2="408.21" stroke="#1c1c1c" stroke-width="1.3" />
<line x1="451.30" y1="392.59" x2="457.70" y2="392.59" stroke="#1c1c1c" stroke-width="1.3" />
<line x1="451.30" y1="408.21" x2="457.70" y2="408.21" stroke="#1c1c1c" stroke-width="1.3" />
<path d="M452.30 401.65 L455.20 398.75 L458.10 401.65 L455.20 404.55Z" fill="#777"/>
<path d="M451.60 400.45 L454.50 397.55 L457.40 400.45 L454.50 403.35Z" fill="#000"/>
<line x1="508.20" y1="394.06" x2="508.20" y2="404.80" stroke="#1c1c1c" stroke-width="1.3" />
<line x1="505.00" y1="394.06" x2="511.40" y2="394.06" stroke="#1c1c1c" stroke-width="1.3" />
<line x1="505.00" y1="404.80" x2="511.40" y2="404.80" stroke="#1c1c1c" stroke-width="1.3" />
<path d="M506.00 401.02 L508.90 398.12 L511.80 401.02 L508.90 403.92Z" fill="#777"/>
<path d="M505.30 399.82 L508.20 396.92 L511.10 399.82 L508.20 402.72Z" fill="#000"/>
<polyline points="347.80,414.50 401.60,397.99 455.30,332.23 509.00,342.19" fill="none" stroke="#8a8a8a" stroke-width="1.2" stroke-linejoin="round" />
<polyline points="347.00,412.40 400.80,395.89 454.50,330.13 508.20,340.09" fill="none" stroke="#000" stroke-width="1.6" stroke-linejoin="round" />
<circle cx="347.70" cy="413.60" r="2.9" fill="#777"/>
<circle cx="347.00" cy="412.40" r="2.9" fill="#000"/>
<line x1="400.80" y1="379.60" x2="400.80" y2="412.14" stroke="#1c1c1c" stroke-width="1.3" />
<line x1="397.60" y1="379.60" x2="404.00" y2="379.60" stroke="#1c1c1c" stroke-width="1.3" />
<line x1="397.60" y1="412.14" x2="404.00" y2="412.14" stroke="#1c1c1c" stroke-width="1.3" />
<circle cx="401.50" cy="397.09" r="2.9" fill="#777"/>
<circle cx="400.80" cy="395.89" r="2.9" fill="#000"/>
<line x1="454.50" y1="306.55" x2="454.50" y2="353.19" stroke="#1c1c1c" stroke-width="1.3" />
<line x1="451.30" y1="306.55" x2="457.70" y2="306.55" stroke="#1c1c1c" stroke-width="1.3" />
<line x1="451.30" y1="353.19" x2="457.70" y2="353.19" stroke="#1c1c1c" stroke-width="1.3" />
<circle cx="455.20" cy="331.33" r="2.9" fill="#777"/>
<circle cx="454.50" cy="330.13" r="2.9" fill="#000"/>
<line x1="508.20" y1="312.84" x2="508.20" y2="365.76" stroke="#1c1c1c" stroke-width="1.3" />
<line x1="505.00" y1="312.84" x2="511.40" y2="312.84" stroke="#1c1c1c" stroke-width="1.3" />
<line x1="505.00" y1="365.76" x2="511.40" y2="365.76" stroke="#1c1c1c" stroke-width="1.3" />
<circle cx="508.90" cy="341.29" r="2.9" fill="#777"/>
<circle cx="508.20" cy="340.09" r="2.9" fill="#000"/>
<line x1="355.40" y1="255.30" x2="388.20" y2="255.30" stroke="#111" stroke-width="1.3" />
<rect x="370.00" y="253.10" width="4.4" height="4.4" fill="#000"/>
<text x="391.30" y="258.50" font-size="8.8" font-family="'DejaVu Sans', 'Liberation Sans', sans-serif" font-weight="bold" text-anchor="start" textLength="61.70" lengthAdjust="spacingAndGlyphs" stroke="#000" stroke-width="0.25">WT Bcl-X(L)</text>
<line x1="355.40" y1="268.80" x2="388.20" y2="268.80" stroke="#111" stroke-width="1.3" />
<circle cx="372.20" cy="268.80" r="2.9" fill="#000"/>
<text x="391.30" y="272.20" font-size="8.8" font-family="'DejaVu Sans', 'Liberation Sans', sans-serif" font-weight="bold" text-anchor="start" textLength="62.30" lengthAdjust="spacingAndGlyphs" stroke="#000" stroke-width="0.25">WT Bcl-X(S)</text>
<line x1="355.40" y1="282.40" x2="369.00" y2="282.40" stroke="#111" stroke-width="1.3" stroke-dasharray="5.4 2.3"/>
<line x1="376.00" y1="282.40" x2="388.20" y2="282.40" stroke="#111" stroke-width="1.3" stroke-dasharray="5.1 2.3"/>
<path d="M369.30 284.70 L372.20 279.40 L375.10 284.70Z" fill="#000"/>
<text x="391.30" y="285.90" font-size="8.8" font-family="'DejaVu Sans', 'Liberation Sans', sans-serif" font-weight="bold" text-anchor="start" textLength="65.70" lengthAdjust="spacingAndGlyphs" stroke="#000" stroke-width="0.25">TKO Bcl-X(L)</text>
<line x1="355.40" y1="295.50" x2="370.00" y2="295.50" stroke="#111" stroke-width="1.3" stroke-dasharray="5.4 2.3 1.2 1.6"/>
<line x1="376.60" y1="295.50" x2="388.20" y2="295.50" stroke="#111" stroke-width="1.3" stroke-dasharray="1.2 1.9 4.9 2"/>
<path d="M369.30 295.50 L372.20 292.60 L375.10 295.50 L372.20 298.40Z" fill="#000"/>
<text x="391.30" y="299.80" font-size="8.8" font-family="'DejaVu Sans', 'Liberation Sans', sans-serif" font-weight="bold" text-anchor="start" textLength="66.30" lengthAdjust="spacingAndGlyphs" stroke="#000" stroke-width="0.25">TKO Bcl-X(S)</text>
</svg></body></html>
